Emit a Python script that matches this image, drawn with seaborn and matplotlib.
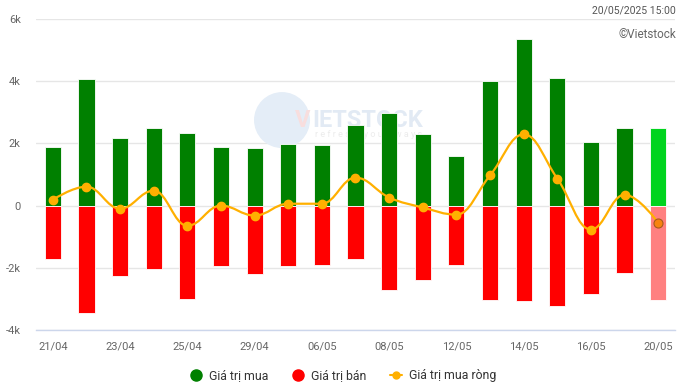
import matplotlib
matplotlib.use("Agg")
import matplotlib.pyplot as plt
import seaborn as sns
import pandas as pd
from matplotlib.path import Path
from matplotlib.patches import PathPatch, Ellipse
from matplotlib.lines import Line2D

# Data (tỷ đồng)
dates = ["21/04", "22/04", "23/04", "24/04", "25/04", "28/04", "29/04", "05/05",
         "06/05", "07/05", "08/05", "09/05", "12/05", "13/05", "14/05", "15/05",
         "16/05", "19/05", "20/05"]
buy = [1870, 4060, 2160, 2480, 2350, 1900, 1840, 1970, 1940, 2580, 2970, 2290,
       1610, 4000, 5350, 4100, 2030, 2480, 2480]
sell = [-1710, -3450, -2260, -2030, -3000, -1940, -2190, -1940, -1900, -1710,
        -2710, -2390, -1900, -3030, -3060, -3230, -2840, -2160, -3030]
net = [190, 610, -100, 480, -650, 0, -320, 60, 60, 900, 260, -60, -290, 970,
       2290, 870, -770, 350, -550]
tick_labels = ["6k", "4k", "2k", "0", "-2k", "-4k"]

GREEN, RED, LINE = "#008000", "#ff0000", "#ffb000"

sns.set_theme(style="white")
plt.rcParams["font.family"] = ["Roboto", "DejaVu Sans"]

fig = plt.figure(figsize=(6.82, 3.90), dpi=100)
ax = fig.add_axes([36 / 682, 60 / 390, 639 / 682, 311 / 390])

df = pd.DataFrame({"date": dates, "buy": buy, "sell": sell, "net": net})
buy_colors = [GREEN] * (len(dates) - 1) + ["#00d41e"]
sell_colors = [RED] * (len(dates) - 1) + ["#ff8080"]

sns.barplot(data=df, x="date", y="buy", hue="date", palette=buy_colors,
            legend=False, width=0.48, edgecolor="white", linewidth=0.6,
            saturation=1, ax=ax, zorder=3)
sns.barplot(data=df, x="date", y="sell", hue="date", palette=sell_colors,
            legend=False, width=0.48, edgecolor="white", linewidth=0.6,
            saturation=1, ax=ax, zorder=3)


# Highcharts-like spline through the net points
def spline_path(xs, ys, smoothing=1.5):
    n = len(xs)
    left = [(x, y) for x, y in zip(xs, ys)]
    right = [(x, y) for x, y in zip(xs, ys)]
    d = smoothing + 1
    for i in range(1, n - 1):
        px, py = xs[i], ys[i]
        lx, ly = xs[i - 1], ys[i - 1]
        nx, ny = xs[i + 1], ys[i + 1]
        lcx, lcy = (smoothing * px + lx) / d, (smoothing * py + ly) / d
        rcx, rcy = (smoothing * px + nx) / d, (smoothing * py + ny) / d
        if rcx != lcx:
            corr = (rcy - lcy) * (rcx - px) / (rcx - lcx) + py - rcy
            lcy += corr
            rcy += corr
        if lcy > ly and lcy > py:
            lcy = max(ly, py)
            rcy = 2 * py - lcy
        elif lcy < ly and lcy < py:
            lcy = min(ly, py)
            rcy = 2 * py - lcy
        if rcy > ny and rcy > py:
            rcy = max(ny, py)
            lcy = 2 * py - rcy
        elif rcy < ny and rcy < py:
            rcy = min(ny, py)
            lcy = 2 * py - rcy
        left[i] = (lcx, lcy)
        right[i] = (rcx, rcy)
    verts = [(xs[0], ys[0])]
    codes = [Path.MOVETO]
    for i in range(1, n):
        verts += [right[i - 1], left[i], (xs[i], ys[i])]
        codes += [Path.CURVE4] * 3
    return Path(verts, codes)


xs = list(range(len(dates)))
ax.add_patch(PathPatch(spline_path(xs, net), facecolor="none", edgecolor=LINE,
                       lw=1.6, zorder=4))
ax.plot(xs[:-1], net[:-1], "o", color=LINE, markersize=6, zorder=5)
ax.plot(xs[-1], net[-1], "o", color="#f7830f", markeredgecolor="#a85a1a",
        markeredgewidth=0.8, markersize=6.5, zorder=5)

ax.set_ylim(-4000, 6000)
ax.set_xlim(-0.5, len(dates) - 0.5)
ax.set_yticks([6000, 4000, 2000, 0, -2000, -4000])
ax.set_yticklabels(tick_labels)
ax.set_xticks(xs[::2])
ax.set_xticklabels(dates[::2])
ax.set_xlabel("")
ax.set_ylabel("")
ax.tick_params(axis="y", length=0, pad=11, labelsize=8, labelcolor="#666666")
ax.tick_params(axis="x", length=0, pad=8, labelsize=8, labelcolor="#666666")
ax.grid(axis="y", color="#e6e6e6", linewidth=1, zorder=0)
ax.set_axisbelow(True)
for side in ["top", "right", "left"]:
    ax.spines[side].set_visible(False)
ax.spines["bottom"].set_color("#ccd6eb")
ax.spines["bottom"].set_linewidth(1)

# faint watermark behind the bars
ax.add_patch(Ellipse((0.385, 0.675), 56 / 639, 56 / 311, transform=ax.transAxes,
                     facecolor="#e4edf7", edgecolor="none", zorder=1))
ax.text(0.405, 0.675, "V", transform=ax.transAxes, color="#f8dede",
        fontsize=17, fontweight="bold", ha="left", va="center", zorder=1)
ax.text(0.432, 0.675, "IETSTOCK", transform=ax.transAxes, color="#e2eaf4",
        fontsize=17, fontweight="bold", ha="left", va="center", zorder=1)
ax.text(0.437, 0.628, "r e f r e s h   y o u r   w a y s",
        transform=ax.transAxes, color="#ececec", fontsize=6.5, ha="left",
        va="center", zorder=1)

fig.text(676 / 682, 1 - 10 / 390, "20/05/2025 15:00", ha="right", va="center",
         fontsize=7.5, color="#555555")
fig.text(676 / 682, 1 - 35 / 390, "©Vietstock", ha="right", va="center",
         fontsize=8.5, color="#666666")

handles = [
    Line2D([], [], marker="o", linestyle="none", color=GREEN, markersize=8),
    Line2D([], [], marker="o", linestyle="none", color=RED, markersize=8),
    Line2D([], [], marker="o", color=LINE, lw=1.5, markersize=5),
]
fig.legend(handles, ["Giá trị mua", "Giá trị bán", "Giá trị mua ròng"],
           loc="center", bbox_to_anchor=(0.503, 1 - 376 / 390), ncol=3,
           frameon=False, fontsize=8.8, handlelength=1.0, handletextpad=0.6,
           columnspacing=1.9, labelcolor="#333333")

fig.savefig("out.png", dpi=100)
